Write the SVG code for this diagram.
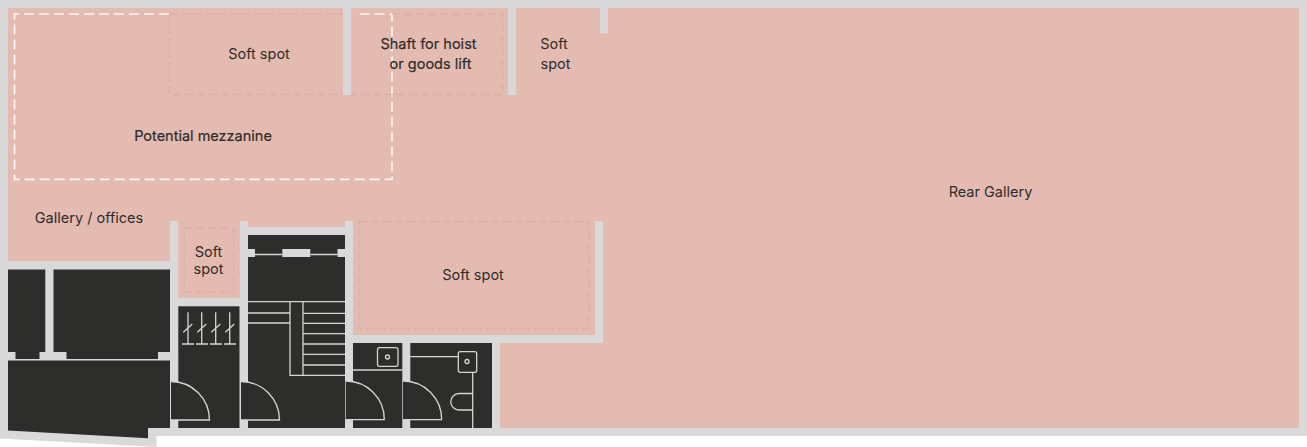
<svg xmlns="http://www.w3.org/2000/svg" width="1307" height="447" viewBox="0 0 1307 447">
<style>
.wall{fill:#d9d9d9}
.room{fill:#e4bbb0}
.dark{fill:#2d2d2b}
.line{fill:none;stroke:#d5d5d3;stroke-width:1.3}
.soft{fill:none;stroke:#dbb1a6;stroke-width:1.3;stroke-dasharray:8 4}
.mezz{fill:none;stroke:#fdf6f3;stroke-width:1.7;stroke-dasharray:10 5}
text{font-family:"Inter","Liberation Sans",Arial,sans-serif;font-size:14.5px;fill:#2d2d2b;text-anchor:middle}
.strong{stroke:#2d2d2b;stroke-width:.2px}
</style>
<rect width="1307" height="447" fill="#fff"/>
<g id="building">
<polygon class="wall" points="0,0 1307,0 1307,436 156.500,436 156.500,447 0,438.500"/>
<rect class="room" x="8" y="8" width="1291" height="420"/>
</g>
<g id="walls">
<rect class="wall" x="343" y="8" width="8" height="87"/>
<rect class="wall" x="508" y="8" width="8" height="87"/>
<rect class="wall" x="600" y="8" width="8" height="25.500"/>
<rect class="wall" x="8" y="261" width="170" height="167"/>
<rect class="wall" x="170" y="221" width="8" height="77"/>
<rect class="wall" x="170" y="298" width="78" height="130"/>
<rect class="wall" x="240" y="221" width="8" height="85"/>
<rect class="wall" x="240" y="227" width="113" height="201"/>
<rect class="wall" x="345" y="221" width="8" height="122"/>
<rect class="wall" x="345" y="335" width="258" height="8"/>
<rect class="wall" x="353" y="343" width="147" height="85"/>
<rect class="wall" x="595" y="221" width="8" height="122"/>
</g>
<g id="back-rooms">
<rect class="dark" x="8" y="269.500" width="37.300" height="82.500"/>
<rect class="dark" x="15.500" y="352" width="24" height="7"/>
<rect class="dark" x="53.500" y="269.500" width="116.500" height="82.500"/>
<rect class="dark" x="66.500" y="352" width="91.500" height="7"/>
<polygon class="dark" points="8,360.500 170,360.500 170,428 148,428 148,438.300 8,430.500"/>
</g>
<g id="cloakroom">
<rect class="dark" x="178.300" y="306.300" width="61.200" height="121.700"/>
<path class="dark" d="M171 381.500A38.500 38.500 0 0 1 209.500 420H171Z"/>
<path class="line" d="M171 381.500A38.500 38.500 0 0 1 209.500 420H171"/>
<path class="line" d="M188 312.300V344M182 344H194M183.300 332.300L192.300 324M201.700 312.300V344M196 344H208M197.300 332.300L206.300 324M215.700 312.300V344M210 344H222M211.300 332.300L220.300 324M229.700 312.300V344M224 344H236M225.300 332.300L234.300 324"/>
</g>
<g id="stairs">
<rect class="dark" x="248" y="235" width="97" height="193"/>
<path class="line" d="M255 254.500H282M310.500 254.500H337.500"/>
<rect class="wall" x="248" y="249" width="7" height="8"/>
<rect class="wall" x="282.300" y="249" width="28" height="8"/>
<rect class="wall" x="337.500" y="249" width="7.500" height="8"/>
<path class="line" d="M248 301.700H345M248 313H290M248 323H290M290 301.700V375.300H345M303 301.700V375.300M303 313.300H345M303 323.300H345M303 333.700H345M303 344H345M303 354.300H345M303 365H345"/>
<path class="dark" d="M241 381.500A38.500 38.500 0 0 1 279.500 420H241Z"/>
<path class="line" d="M241 381.500A38.500 38.500 0 0 1 279.500 420H241"/>
</g>
<g id="wc-1">
<rect class="dark" x="353" y="343" width="49.300" height="85"/>
<path class="line" d="M353 370H402.300"/>
<rect class="line" x="377.500" y="347.700" width="20.500" height="18.600" rx="2"/>
<circle class="line" cx="387.500" cy="357" r="2"/>
<path class="dark" d="M345.700 381A38.500 38.500 0 0 1 384.300 419.700H345.700Z"/>
<path class="line" d="M345.700 381A38.500 38.500 0 0 1 384.300 419.700H345.700"/>
</g>
<g id="wc-2">
<rect class="dark" x="410.300" y="343" width="81.700" height="85"/>
<path class="line" d="M410.300 356.700H458.300M472.700 372.300V428M472.700 393.500H459A8.250 8.250 0 0 0 459 410H472.700"/>
<rect class="line" x="458.300" y="351.700" width="18.400" height="20.600" rx="2"/>
<circle class="line" cx="467" cy="361.500" r="2"/>
<path class="dark" d="M403 381A38.500 38.500 0 0 1 441.700 419.700H403Z"/>
<path class="line" d="M403 381A38.500 38.500 0 0 1 441.700 419.700H403"/>
</g>
<g id="mezzanine">
<path class="mezz" d="M169 14H14.500V179.300H392V14H355"/>
<text class="strong" x="203" y="141">Potential mezzanine</text>
</g>
<g id="soft-spot-1">
<path class="soft" d="M169.500 14H343M169.500 14V94.500H343"/>
<text x="259" y="59">Soft spot</text>
</g>
<g id="soft-spot-shaft">
<path class="soft" d="M392 14H502.500V94.500H351"/>
<text class="strong" x="428.500" y="49">Shaft for hoist</text>
<text class="strong" x="430.500" y="69">or goods lift</text>
</g>
<g id="soft-spot-2">
<text x="554" y="49">Soft</text>
<text x="555.500" y="69">spot</text>
</g>
<g id="soft-spot-3">
<rect class="soft" x="184.300" y="228.300" width="49.400" height="64"/>
<text x="208.500" y="257">Soft</text>
<text x="208.500" y="274">spot</text>
</g>
<g id="soft-spot-4">
<rect class="soft" x="359" y="221.500" width="229.700" height="107.500"/>
<text x="473" y="280">Soft spot</text>
</g>
<g id="gallery-offices"><text x="89" y="223">Gallery / offices</text></g>
<g id="rear-gallery"><text x="990.500" y="197">Rear Gallery</text></g>
<g id="connectors"/>
</svg>
